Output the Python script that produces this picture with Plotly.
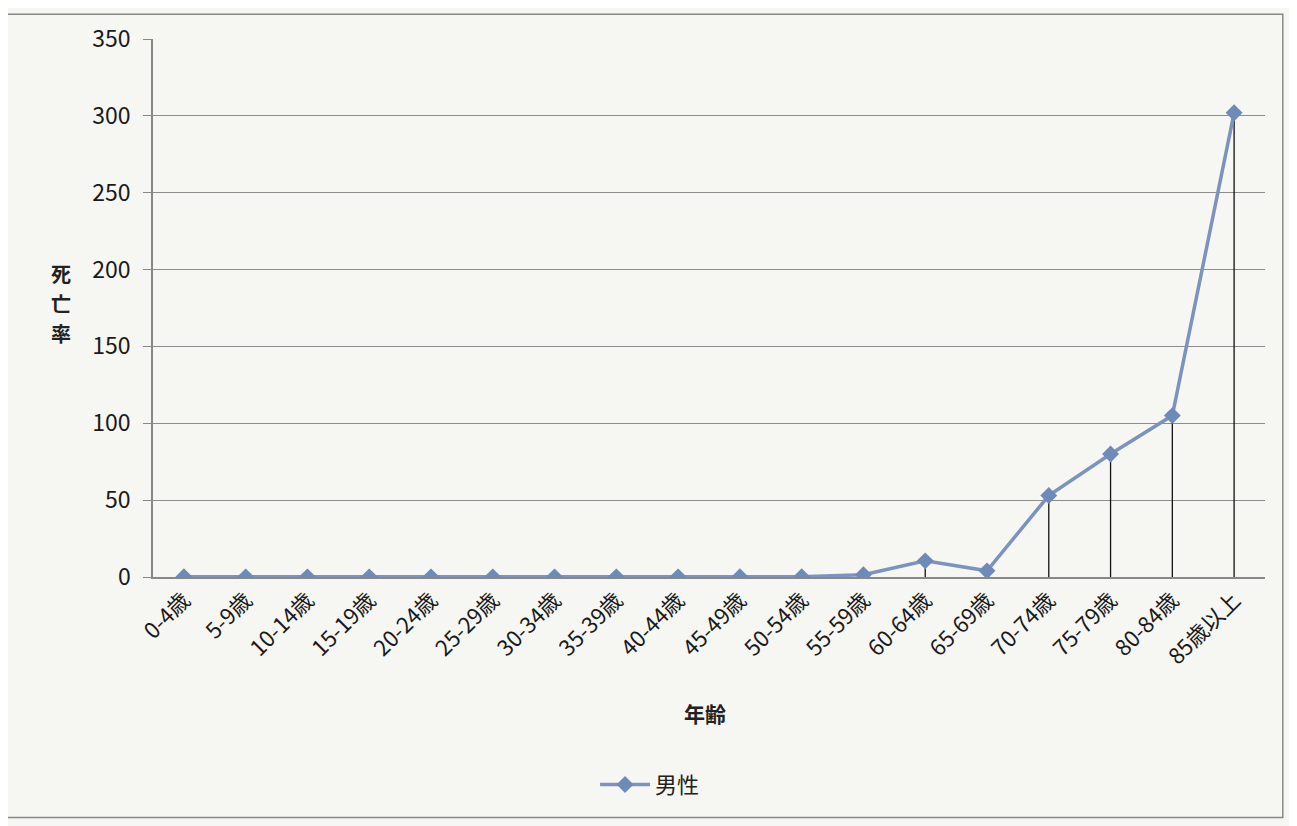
import plotly.graph_objects as go

categories = ["0-4歳", "5-9歳", "10-14歳", "15-19歳", "20-24歳", "25-29歳",
              "30-34歳", "35-39歳", "40-44歳", "45-49歳", "50-54歳", "55-59歳",
              "60-64歳", "65-69歳", "70-74歳", "75-79歳", "80-84歳", "85歳以上"]
male_rate = [0.2, 0.1, 0.1, 0.1, 0.1, 0.1, 0.1, 0.1, 0.1, 0.2, 0.2, 1.5,
             10.5, 4.0, 53.0, 80.0, 105.0, 302.0]
y_ticks = [0, 50, 100, 150, 200, 250, 300, 350]
y_title_chars = ["死", "亡", "率"]

FONT = "Noto Sans CJK JP, Open Sans, sans-serif"
LINE_COLOR = "#7b93bd"
MARK_COLOR = "#6d8ab8"

fig = go.Figure()
fig.add_trace(go.Scatter(
    x=categories, y=male_rate, mode="lines+markers", name="男性",
    line=dict(color=LINE_COLOR, width=3.5),
    marker=dict(symbol="diamond", size=13, color=MARK_COLOR),
    error_y=dict(type="data", symmetric=False, array=[0] * len(male_rate),
                 arrayminus=male_rate, color="#111111", thickness=1.3, width=0),
))

annotations = [dict(text="<b>年齢</b>", xref="paper", yref="paper",
                    x=0.496, y=-0.285, showarrow=False,
                    font=dict(size=21, color="#222"))]
for i, ch in enumerate(y_title_chars):
    annotations.append(dict(text=f"<b>{ch}</b>", xref="paper", yref="paper",
                            x=-0.0935, y=0.5645 - i * 0.056, showarrow=False,
                            font=dict(size=20, color="#222")))

fig.update_layout(
    width=1297, height=826,
    margin=dict(l=145, r=40, t=25, b=257),
    paper_bgcolor="#f6f6f3", plot_bgcolor="#f6f6f3",
    font=dict(family=FONT, size=20, color="#222222"),
    showlegend=True,
    legend=dict(orientation="h", x=0.447, xanchor="center", y=-0.386, yanchor="middle",
                font=dict(size=22, color="#222"), bgcolor="rgba(0,0,0,0)",
                itemwidth=50),
    xaxis=dict(
        type="category", tickangle=-45, tickfont=dict(size=22, color="#1a1a1a"),
        showgrid=False, showline=True, linecolor="#888888", linewidth=1.5,
        ticks="", range=[-0.5, len(categories) - 0.5],
    ),
    yaxis=dict(
        range=[0, 350], tickvals=y_ticks, tickfont=dict(size=23, color="#1a1a1a"),
        showgrid=True, gridcolor="#8c8c8c", gridwidth=1.3,
        showline=True, linecolor="#888888", linewidth=1.5,
        ticks="outside", ticklen=8, tickcolor="#888888",
        ticklabelstandoff=8, zeroline=False,
    ),
    shapes=[dict(type="rect", xref="paper", yref="paper",
                 x0=-0.137, x1=1.016, y0=-0.447, y1=1.046,
                 line=dict(color="#888888", width=1.5))],
    annotations=annotations,
)

fig.write_html("out.html")
